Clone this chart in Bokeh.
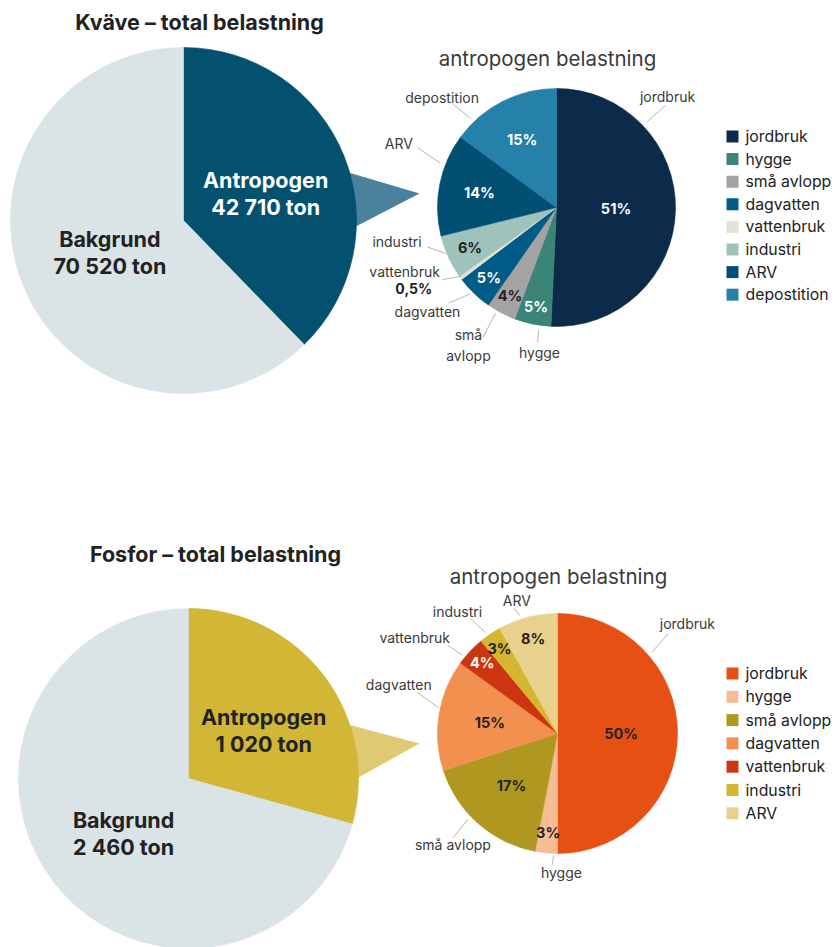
import math
from bokeh.plotting import figure
from bokeh.models import Range1d
from bokeh.core.properties import value
from bokeh.embed import file_html
from bokeh.resources import INLINE

# ---------------- data ----------------
N_TITLE = "Kväve – total belastning"
N_PARTS = ["Antropogen", "Bakgrund"]
N_TON = [42710, 70520]
N_CATS = ["jordbruk", "hygge", "små avlopp", "dagvatten", "vattenbruk", "industri", "ARV", "depostition"]
N_PCT = [51, 5, 4, 5, 0.5, 6, 14, 15]

P_TITLE = "Fosfor – total belastning"
P_PARTS = ["Antropogen", "Bakgrund"]
P_TON = [1020, 2460]
P_CATS = ["jordbruk", "hygge", "små avlopp", "dagvatten", "vattenbruk", "industri", "ARV"]
P_PCT = [50, 3, 17, 15, 4, 3, 8]

SUBTITLE = "antropogen belastning"
UNIT = "ton"

# ---------------- styles ----------------
FONT = "Inter"
DARK = "#222222"
LABEL_GRAY = "#3a3a3a"
LEADER = "#b5b5b5"
BG_COLOR = "#dae3e6"

N_STYLE = dict(
    big_c=(183, 220), big_r=173,
    big_colors=["#03506f", BG_COLOR], big_text=["white", DARK],
    big_lbl=[(71.8, 0.5), (246.3, 0.465)],
    tri_color="#4a829e", tri_base=(-18, -51, 15), tri_tip=(-137, -14),
    title_pos=(199, 21), sub_pos=(547, 58),
    c=(556, 207), r=119,
    colors=["#0c2b4b", "#3b8478", "#a3a3a3", "#005b87", "#e5e0d8", "#9dc3bc", "#024f74", "#2581a9"],
    pct_colors=["white", "white", DARK, "white", None, DARK, "white", "white"],
    pct_frac=[0.5, 0.85, 0.84, 0.82, None, 0.8, 0.66, 0.64],
    names=["jordbruk", "hygge", "små\navlopp", "dagvatten", "vattenbruk", "industri", "ARV", "depostition"],
    line=[(46.6, 125, 46.9, 149), (188.3, 124, 188, 136), (210, 122, 209.5, 150), (225, 122, 228.4, 144),
          (234.3, 118, 237.7, 135), (247.5, 120, 253, 135), (290.8, 124, 293.3, 151), (316, 124, 315, 146)],
    txt=[(45, 157), (186.7, 146), (212.7, 163), (231, 166), (247, 165), (258, 163), (292, 170), (314, 159)],
    out_pct={4: (240.5, 164)},
    leg_x=732, leg_y0=136, leg_dy=22.6,
)

P_STYLE = dict(
    big_c=(188, 778), big_r=170,
    big_colors=["#d2b636", BG_COLOR], big_text=[DARK, DARK],
    big_lbl=[(57.4, 0.525), (229.8, 0.5)],
    tri_color="#dfca72", tri_base=(-18, -56, 9), tri_tip=(-138, 10),
    title_pos=(215, 553), sub_pos=(558, 576),
    c=(557, 733), r=120,
    colors=["#e65012", "#f6bc94", "#b0971f", "#f2914f", "#cd3410", "#d4b630", "#e8d18c"],
    pct_colors=[DARK, DARK, DARK, DARK, "white", DARK, DARK],
    pct_frac=[0.53, 0.83, 0.58, 0.57, 0.86, 0.86, 0.82],
    names=["jordbruk", "hygge", "små  avlopp", "dagvatten", "vattenbruk", "industri", "ARV"],
    line=[(49.2, 125, 48, 149), (181.9, 122, 182.2, 131), (226.3, 124, 225, 147), (282.3, 122, 286.3, 146),
          (309.4, 123, 308.9, 140), (324.5, 124, 322.9, 144), (342.2, 124, 341, 132)],
    txt=[(49.8, 170), (178.4, 139), (222.8, 151), (287, 166), (303.9, 172), (320.7, 158), (343, 139)],
    out_pct={},
    leg_x=732, leg_y0=673, leg_dy=23.3,
)

W, H = 835, 947


def Y(iy):
    return H - iy


def polar(c, ang, dist):
    a = math.radians(ang)
    return c[0] + dist * math.sin(a), c[1] - dist * math.cos(a)


def fmt_ton(v):
    return f"{v:,}".replace(",", " ") + " " + UNIT


def fmt_pct(v):
    return f"{v:g}".replace(".", ",") + "%"


def wedges(p, c, r, vals, colors):
    tot = float(sum(vals))
    a0s, a1s, mids = [], [], []
    acc = 0.0
    for v in vals:
        a0 = acc / tot * 360.0
        acc += v
        a1 = acc / tot * 360.0
        a0s.append(a0)
        a1s.append(a1)
        mids.append((a0 + a1) / 2)
    p.wedge(x=[c[0]] * len(vals), y=[Y(c[1])] * len(vals), radius=r,
            start_angle=[math.radians(90 - a) for a in a1s],
            end_angle=[math.radians(90 - a) for a in a0s],
            fill_color=colors, line_color=colors, line_width=0.6)
    return mids


def txt(p, xs, ys, texts, size, color, bold=False, align="center"):
    p.text(x=xs, y=[Y(y) for y in ys], text=texts, text_font=value(FONT),
           text_font_size=size, text_font_style="bold" if bold else "normal",
           text_color=color, text_align=align, text_baseline="middle", text_line_height=1.25)


def section(p, title, parts, tons, cats, pct, st):
    bc, br = st["big_c"], st["big_r"]
    c, r = st["c"], st["r"]
    # callout triangle (behind pies)
    bx = bc[0] + br + st["tri_base"][0]
    tip = (c[0] + st["tri_tip"][0], c[1] + st["tri_tip"][1])
    p.patch(x=[bx, tip[0], bx], y=[Y(bc[1] + st["tri_base"][1]), Y(tip[1]), Y(bc[1] + st["tri_base"][2])],
            fill_color=st["tri_color"], line_color=None)
    # big pie
    wedges(p, bc, br, tons, st["big_colors"])
    for i, part in enumerate(parts):
        ang, frac = st["big_lbl"][i]
        x, y = polar(bc, ang, br * frac)
        txt(p, [x, x], [y - 13.5, y + 13.5], [part, fmt_ton(tons[i])], "21.5px", st["big_text"][i], bold=True)
    # title
    txt(p, [st["title_pos"][0]], [st["title_pos"][1]], [title], "21.5px", DARK, bold=True)
    txt(p, [st["sub_pos"][0]], [st["sub_pos"][1]], [SUBTITLE], "20.5px", LABEL_GRAY)
    # small pie
    mids = wedges(p, c, r, pct, st["colors"])
    xs, ys, tt, cols = [], [], [], []
    for i, v in enumerate(pct):
        if st["pct_frac"][i] is None:
            continue
        x, y = polar(c, mids[i], r * st["pct_frac"][i])
        xs.append(x); ys.append(y); tt.append(fmt_pct(v)); cols.append(st["pct_colors"][i])
    txt(p, xs, ys, tt, "14.5px", cols, bold=True)
    # leader lines and outer labels
    lx, ly = [], []
    for (a0, r0, a1, r1) in st["line"]:
        x0, y0 = polar(c, a0, r0)
        x1, y1 = polar(c, a1, r1)
        lx.append([x0, x1]); ly.append([Y(y0), Y(y1)])
    p.multi_line(xs=lx, ys=ly, line_color=LEADER, line_width=1)
    xs, ys = [], []
    for (a, d) in st["txt"]:
        x, y = polar(c, a, d)
        xs.append(x); ys.append(y)
    txt(p, xs, ys, st["names"], "14px", LABEL_GRAY)
    for i, (a, d) in st["out_pct"].items():
        x, y = polar(c, a, d)
        txt(p, [x], [y], [fmt_pct(pct[i])], "14px", DARK, bold=True)
    # legend
    n = len(cats)
    ly_ = [st["leg_y0"] + k * st["leg_dy"] for k in range(n)]
    p.rect(x=[st["leg_x"]] * n, y=[Y(v) for v in ly_], width=12, height=12,
           fill_color=st["colors"], line_color=None)
    txt(p, [st["leg_x"] + 13] * n, ly_, cats, "15.8px", DARK, align="left")


p = figure(width=W, height=H, x_range=Range1d(0, W), y_range=Range1d(0, H),
           x_axis_type=None, y_axis_type=None, toolbar_location=None, output_backend="svg",
           min_border=0, outline_line_color=None, background_fill_color="white",
           border_fill_color="white")
p.grid.visible = False

section(p, N_TITLE, N_PARTS, N_TON, N_CATS, N_PCT, N_STYLE)
section(p, P_TITLE, P_PARTS, P_TON, P_CATS, P_PCT, P_STYLE)

open("out.html", "w").write(file_html(p, INLINE))
